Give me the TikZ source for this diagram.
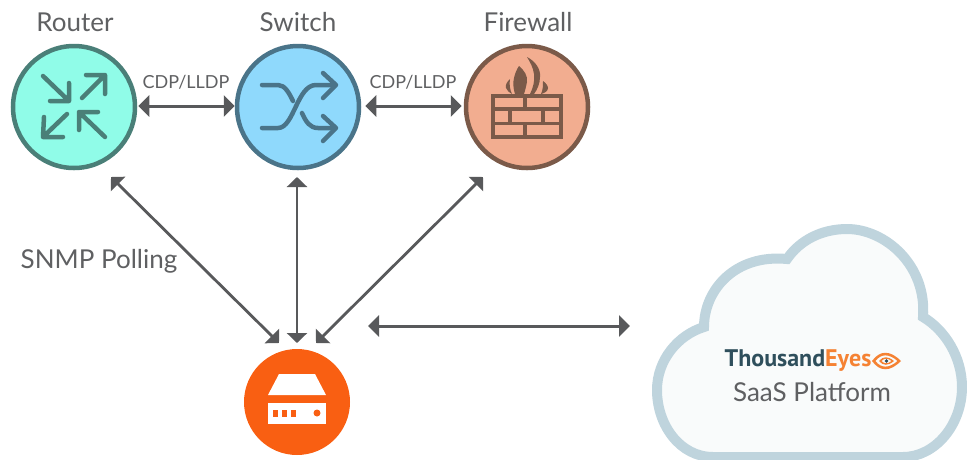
\documentclass[tikz,border=0pt]{standalone}
\usepackage{fontspec}
\setmainfont{Lato}
\newfontfamily\brandfont{PT Sans}
\usetikzlibrary{arrows.meta}
\definecolor{txtgray}{HTML}{5F6062}
\definecolor{arrowgray}{HTML}{58595B}
\definecolor{routerfill}{HTML}{90FCE8}
\definecolor{routerline}{HTML}{4A7F78}
\definecolor{switchfill}{HTML}{8FD9FC}
\definecolor{switchline}{HTML}{4A7489}
\definecolor{firefill}{HTML}{F2AD90}
\definecolor{fireline}{HTML}{7B5A49}
\definecolor{deviceorange}{HTML}{F95F12}
\definecolor{cloudline}{HTML}{BFD4DD}
\definecolor{cloudfill}{HTML}{F9FBFB}
\definecolor{teslate}{HTML}{2F4F5C}
\definecolor{teorange}{HTML}{F58233}
\tikzset{
	hub/.style={circle,inner sep=0pt,minimum size=122pt,line width=4.5pt},
	txt/.style={text=txtgray,inner sep=0pt,font=\fontsize{26}{28}\selectfont},
	smalltxt/.style={text=txtgray,inner sep=0pt,font=\fontsize{18}{20}\selectfont},
	link/.style={arrowgray,line width=3pt,{Triangle[length=11pt,width=21pt]}-{Triangle[length=11pt,width=21pt]}},
	poll/.style={arrowgray,line width=2.8pt,{Triangle[length=10pt,width=20pt]}-{Triangle[length=10pt,width=20pt]}},
	glyph/.style={line width=4.5pt,line cap=round,line join=round},
}
\begin{document}
\begin{tikzpicture}[x=1pt,y=-1pt]
	\useasboundingbox (0,0) rectangle (967,459);
	%devices
	\node[hub,draw=routerline,fill=routerfill] (router) at (74,107) {};
	\node[hub,draw=switchline,fill=switchfill] (switch) at (298,107) {};
	\node[hub,draw=fireline,fill=firefill] (firewall) at (527,107) {};
	\node[circle,inner sep=0pt,minimum size=106pt,fill=deviceorange] (agent) at (297,402) {};
	\node[txt] (routerlabel) at (75,22) {Router};
	\node[txt] (switchlabel) at (298,22) {Switch};
	\node[txt] (firewalllabel) at (528,22) {Firewall};
	\node[smalltxt] (cdpleft) at (186,82) {CDP/LLDP};
	\node[smalltxt] (cdpright) at (413,82) {CDP/LLDP};
	\node[txt] (snmp) at (99,261) {SNMP Polling};
	%router icon
	\draw[glyph,routerline] (43,76)--(69,101) (69,83)--(69,101)--(50,101);
	\draw[glyph,routerline] (82,98)--(105,75) (86,75)--(105,75)--(105,94);
	\draw[glyph,routerline] (67,114)--(43,137) (44,117)--(43,137)--(63,137);
	\draw[glyph,routerline] (105,137)--(79,112) (79,130)--(79,112)--(98,112);
	%switch icon
	\draw[glyph,switchline] (262,85)--(278,85) .. controls (285,85) and (289,93) .. (293,101);
	\draw[glyph,switchline] (262,128)--(278,128) .. controls (294,128) and (297,85) .. (316,85)--(335,85);
	\draw[glyph,switchline] (302,113) .. controls (306,122) and (310,128) .. (318,128)--(335,128);
	\draw[glyph,switchline] (323,73)--(336,85)--(323,98) (323,116)--(336,128)--(323,141);
	%firewall icon
	\draw[fireline,line width=3.6pt] (493,96) rectangle (561,137);
	\draw[fireline,line width=3.6pt] (493,109)--(561,109) (493,123.5)--(561,123.5)
	(525,96)--(525,109) (510,109)--(510,123.5) (543,109)--(543,123.5) (525,123.5)--(525,137);
	\fill[fireline] (519,66) .. controls (524,70) and (528,76) .. (527,82) .. controls (526,87) and (525,91) .. (524,94) -- (515,94) .. controls (513,88) and (513,82) .. (514,78) .. controls (515,73) and (517,69) .. (519,66) -- cycle;
	\fill[fireline] (527,57) .. controls (535,61) and (541,69) .. (540,77) .. controls (540,84) and (537,90) .. (534,94) -- (530,94) .. controls (533,88) and (535,81) .. (534,74) .. controls (533,67) and (530,62) .. (527,57) -- cycle;
	\fill[fireline] (510,79) .. controls (507,82) and (505,85) .. (506,88) .. controls (507,90) and (509,93) .. (512,94) .. controls (510,90) and (509,84) .. (510,79) -- cycle;
	\fill[fireline] (543,81) .. controls (543,85) and (543,90) .. (541,94) .. controls (545,93) and (548,91) .. (548,88) .. controls (548,86) and (546,83) .. (543,81) -- cycle;
	%agent icon
	\fill[white] (279,374)--(315,374)--(326,395)--(268,395)--cycle;
	\fill[white] (268,403) rectangle (326,424);
	\foreach \x in {273,282,291}
	\fill[deviceorange] (\x,410) rectangle ++(5,7);
	\fill[deviceorange] (317,413) circle (3.5);
	%cloud
	\draw[cloudline,fill=cloudfill,line width=10pt,miter limit=10] (713,457) .. controls (680,457) and (657,425) .. (657,390)
	.. controls (657,360) and (678,335) .. (704,327)
	.. controls (704,290) and (735,254) .. (787,259)
	.. controls (800,240) and (822,229) .. (847,229)
	.. controls (885,229) and (927,265) .. (923,317)
	.. controls (945,330) and (962,357) .. (962,387)
	.. controls (962,425) and (935,457) .. (903,457) -- cycle;
	\node[inner sep=0pt,font=\fontsize{24}{26}\brandfont\bfseries\selectfont] (brand) at (798,361) {\textcolor{teslate}{Thousand}\textcolor{teorange}{Eyes}};
	\node[txt] (saas) at (812,392) {SaaS Platform};
	%eye
	\fill[teorange,even odd rule] (872,361) .. controls (880,350) and (890,350) .. (901,361) .. controls (890,372) and (880,372) .. (872,361) -- cycle
	(875.5,361) .. controls (881,353.5) and (889,353.5) .. (897.5,361) .. controls (889,368.5) and (881,368.5) .. (875.5,361) -- cycle
	(879,361) .. controls (883,356) and (888,356) .. (894,361) .. controls (888,366) and (883,366) .. (879,361) -- cycle
	(881.5,361) .. controls (884,358) and (888,358) .. (891.5,361) .. controls (888,364) and (884,364) .. (881.5,361) -- cycle;
	\fill[teslate] (886.5,361) circle (1.8);
	%links
	\coordinate (routerport) at (111,177);
	\coordinate (switchport) at (297,177);
	\coordinate (fireport) at (483,177);
	\coordinate (agentleft) at (279,343);
	\coordinate (agenttop) at (297,343);
	\coordinate (agentright) at (316,343);
	\coordinate (agentside) at (368,326);
	\coordinate (cloudside) at (630,326);
	\draw[link,shorten <=1pt] ([yshift=1pt]router.east) -- ([yshift=1pt]switch.west);
	\draw[link,shorten <=4pt,shorten >=2pt] ([yshift=1pt]switch.east) -- ([yshift=1pt]firewall.west);
	\draw[poll] (routerport)--(agentleft);
	\draw[poll] (switchport)--(agenttop);
	\draw[poll] (fireport)--(agentright);
	\draw[link] (agentside)--(cloudside);
\end{tikzpicture}
\end{document}
